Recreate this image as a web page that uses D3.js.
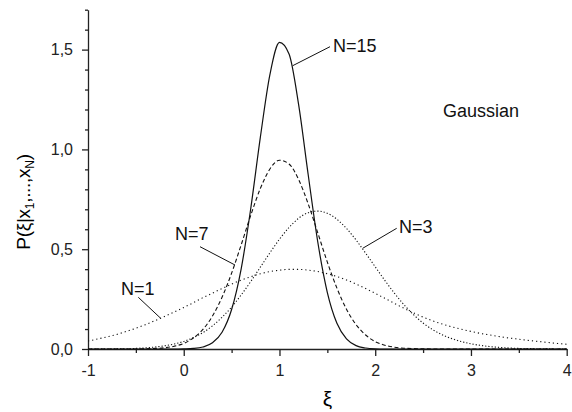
<!DOCTYPE html>
<html>
<head>
<meta charset="utf-8">
<script src="https://cdn.jsdelivr.net/npm/d3@7"></script>
<style>
    body { margin: 0; background: #fff; }
    svg { display: block; font-family: "Liberation Sans", Arial, sans-serif; }
    .axis path, .axis line { stroke: #222; stroke-width: 1.3; }
    .axis text { font-size: 16px; fill: #222; }
    .curve { fill: none; stroke: #111; }
    .note { font-size: 18px; fill: #111; }
    .leader { stroke: #111; stroke-width: 1; }
</style>
</head>
<body>
<svg id="chart" width="572" height="412"></svg>
<script>
// xi grid, step 0.1
var xi = [-1.0, -0.9, -0.8, -0.7, -0.6, -0.5, -0.4, -0.3, -0.2, -0.1,
    0.0, 0.1, 0.2, 0.3, 0.4, 0.5, 0.6, 0.7, 0.8, 0.9,
    1.0, 1.1, 1.2, 1.3, 1.4, 1.5, 1.6, 1.7, 1.8, 1.9,
    2.0, 2.1, 2.2, 2.3, 2.4, 2.5, 2.6, 2.7, 2.8, 2.9,
    3.0, 3.1, 3.2, 3.3, 3.4, 3.5, 3.6, 3.7, 3.8, 3.9, 4.0];

var p_n1 = [0.040, 0.050, 0.061, 0.073, 0.088, 0.104, 0.122, 0.142, 0.163, 0.185,
    0.208, 0.232, 0.257, 0.280, 0.303, 0.325, 0.345, 0.362, 0.377, 0.388,
    0.395, 0.399, 0.399, 0.395, 0.388, 0.377, 0.363, 0.346, 0.326, 0.303,
    0.279, 0.254, 0.229, 0.204, 0.181, 0.160, 0.141, 0.125, 0.111, 0.099,
    0.088, 0.078, 0.070, 0.062, 0.055, 0.049, 0.043, 0.038, 0.033, 0.028, 0.024];

var p_n3 = [0.000, 0.000, 0.000, 0.001, 0.001, 0.003, 0.006, 0.010, 0.016, 0.025,
    0.038, 0.057, 0.082, 0.116, 0.159, 0.210, 0.271, 0.338, 0.410, 0.482,
    0.550, 0.609, 0.655, 0.683, 0.691, 0.680, 0.650, 0.604, 0.546, 0.480,
    0.412, 0.344, 0.280, 0.222, 0.172, 0.130, 0.097, 0.071, 0.052, 0.037,
    0.026, 0.018, 0.012, 0.008, 0.005, 0.003, 0.002, 0.001, 0.001, 0.000, 0.000];

var p_n7 = [0.000, 0.000, 0.000, 0.000, 0.000, 0.000, 0.001, 0.003, 0.006, 0.014,
    0.028, 0.055, 0.098, 0.165, 0.259, 0.380, 0.522, 0.670, 0.804, 0.902,
    0.946, 0.927, 0.849, 0.727, 0.582, 0.435, 0.305, 0.199, 0.122, 0.070,
    0.037, 0.019, 0.009, 0.004, 0.002, 0.001, 0.000, 0.000, 0.000, 0.000,
    0.000, 0.000, 0.000, 0.000, 0.000, 0.000, 0.000, 0.000, 0.000, 0.000, 0.000];

var p_n15 = [0.000, 0.000, 0.000, 0.000, 0.000, 0.000, 0.000, 0.000, 0.000, 0.000,
    0.001, 0.003, 0.010, 0.031, 0.084, 0.198, 0.402, 0.704, 1.060, 1.375,
    1.536, 1.478, 1.224, 0.873, 0.536, 0.283, 0.129, 0.051, 0.017, 0.005,
    0.001, 0.000, 0.000, 0.000, 0.000, 0.000, 0.000, 0.000, 0.000, 0.000,
    0.000, 0.000, 0.000, 0.000, 0.000, 0.000, 0.000, 0.000, 0.000, 0.000, 0.000];

var x_ticks = [-1, 0, 1, 2, 3, 4];
var x_minor = [-0.5, 0.5, 1.5, 2.5, 3.5];
var y_ticks = [0, 0.5, 1.0, 1.5];
var y_tick_labels = ["0,0", "0,5", "1,0", "1,5"];
var y_minor = [0.1, 0.2, 0.3, 0.4, 0.6, 0.7, 0.8, 0.9, 1.1, 1.2, 1.3, 1.4, 1.6, 1.7];

var series = [
    {name: "N=15", values: p_n15, dash: null, label: [333, 52], leader: [[330, 46.7], [292.7, 65.7]]},
    {name: "N=7", values: p_n7, dash: "4,2.5", label: [175, 240], leader: [[200, 246.7], [235, 265]]},
    {name: "N=3", values: p_n3, dash: "1.2,2", label: [399, 233], leader: [[396.7, 228.3], [362.7, 248.3]]},
    {name: "N=1", values: p_n1, dash: "1.2,3", label: [121, 295], leader: [[138.3, 297.3], [160.7, 318.3]]}
];

(function() {
    var svg = d3.select("#chart");

    var x = d3.scaleLinear().domain([-1, 4]).range([88, 566.7]);
    var y = d3.scaleLinear().domain([0, 1.7]).range([349, 9.7]);

    // x axis: minor ticks first, then the labelled ones
    svg.append("g")
        .attr("class", "axis")
        .attr("transform", "translate(0," + y(0) + ")")
        .call(d3.axisBottom(x).tickValues(x_minor).tickSize(4).tickFormat(""))
        .select(".domain").remove();

    svg.append("g")
        .attr("class", "axis")
        .attr("transform", "translate(0," + y(0) + ")")
        .call(d3.axisBottom(x).tickValues(x_ticks).tickSize(7).tickSizeOuter(0).tickPadding(9)
            .tickFormat(function(d) { return d < 0 ? "-" + Math.abs(d) : d; }));

    svg.append("g")
        .attr("class", "axis")
        .attr("transform", "translate(" + x(-1) + ",0)")
        .call(d3.axisLeft(y).tickValues(y_minor).tickSize(3).tickFormat(""))
        .select(".domain").remove();

    svg.append("g")
        .attr("class", "axis")
        .attr("transform", "translate(" + x(-1) + ",0)")
        .call(d3.axisLeft(y).tickValues(y_ticks).tickSize(6).tickSizeOuter(0).tickPadding(9)
            .tickFormat(function(d, i) { return y_tick_labels[i]; }));

    var line = d3.line()
        .x(function(d) { return x(d[0]); })
        .y(function(d) { return y(d[1]); })
        .curve(d3.curveMonotoneX);

    series.forEach(function(s) {
        var pts = xi.map(function(v, i) { return [v, s.values[i]]; });

        svg.append("path")
            .datum(pts)
            .attr("class", "curve")
            .attr("stroke-width", s.dash ? 1.1 : 1.2)
            .attr("stroke-dasharray", s.dash)
            .attr("d", line);

        svg.append("line")
            .attr("class", "leader")
            .attr("x1", s.leader[0][0]).attr("y1", s.leader[0][1])
            .attr("x2", s.leader[1][0]).attr("y2", s.leader[1][1]);

        svg.append("text")
            .attr("class", "note")
            .attr("x", s.label[0])
            .attr("y", s.label[1])
            .text(s.name);
    });

    svg.append("text")
        .attr("class", "note")
        .attr("x", 443)
        .attr("y", 117)
        .text("Gaussian");

    // axis titles
    svg.append("text")
        .attr("x", x(1.5))
        .attr("y", 406)
        .attr("text-anchor", "middle")
        .style("font-size", "21px")
        .text("ξ");

    var yt = svg.append("text")
        .attr("transform", "translate(30,202) rotate(-90)")
        .attr("text-anchor", "middle")
        .style("font-size", "19px")
        .style("letter-spacing", "-0.3px");
    yt.append("tspan").text("P(ξ|x");
    yt.append("tspan").attr("baseline-shift", "-30%").style("font-size", "12px").text("1");
    yt.append("tspan").text(",...,x");
    yt.append("tspan").attr("baseline-shift", "-30%").style("font-size", "12px").text("N");
    yt.append("tspan").text(")");
}());
</script>
</body>
</html>
